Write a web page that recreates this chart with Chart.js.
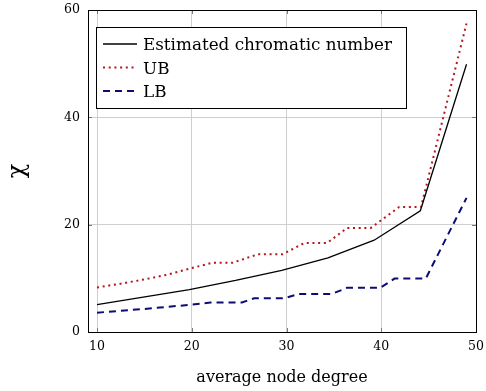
<!DOCTYPE html>
<html>
<head>
<meta charset="utf-8">
<script src="https://cdn.jsdelivr.net/npm/chart.js@4"></script>
<style>
  html, body { margin: 0; padding: 0; background: #fff; }
</style>
</head>
<body>
<canvas id="chromaticChart" width="486" height="391"></canvas>
<script>
// values
const estimatedX = [10, 14.875, 19.75, 24.625, 29.5, 34.375, 39.25, 44.125, 49];
const estimatedY = [5.1, 6.5, 7.9, 9.6, 11.5, 13.8, 17.1, 22.6, 49.9];

const upperX = [10, 12.5, 15, 17.5, 19.75, 22.2, 24.3, 27.0, 29.6, 31.9, 34.3, 36.4, 38.9, 41.9, 44.2, 49];
const upperY = [8.3, 9.0, 9.8, 10.7, 11.8, 12.9, 12.9, 14.5, 14.5, 16.6, 16.6, 19.4, 19.4, 23.3, 23.3, 57.5];

const lowerX = [10, 15, 20, 22.0, 25.3, 26.6, 29.8, 31.3, 34.8, 36.4, 39.9, 41.4, 44.7, 49];
const lowerY = [3.6, 4.3, 5.1, 5.5, 5.5, 6.3, 6.3, 7.1, 7.1, 8.25, 8.25, 9.95, 9.95, 25];

const xTicks = [10, 20, 30, 40, 50];
const yTicks = [0, 20, 40, 60];

const serif = 'DejaVu Serif';

const toPoints = (xs, ys) => xs.map((x, i) => ({ x: x, y: ys[i] }));

// legend inside the plot, like the pgfplots box
const legendBox = {
  id: 'legendBox',
  afterDatasetsDraw(chart) {
    const ctx = chart.ctx;
    const area = chart.chartArea;
    const left = area.left + 8;
    const top = area.top + 17;
    ctx.save();
    ctx.fillStyle = '#fff';
    ctx.fillRect(left, top, 310, 81);
    ctx.strokeStyle = '#000';
    ctx.lineWidth = 1;
    ctx.strokeRect(left + 0.5, top + 0.5, 310, 81);
    ctx.font = '16.8px "' + serif + '"';
    ctx.textBaseline = 'alphabetic';
    chart.data.datasets.forEach((ds, i) => {
      const y = top + 17 + i * 23.5;
      ctx.beginPath();
      ctx.setLineDash(ds.borderDash || []);
      ctx.strokeStyle = ds.borderColor;
      ctx.lineWidth = ds.borderWidth;
      ctx.moveTo(left + 7, y);
      ctx.lineTo(left + 41, y);
      ctx.stroke();
      ctx.setLineDash([]);
      ctx.fillStyle = '#000';
      ctx.fillText(ds.label, left + 47, y + 6);
    });
    ctx.restore();
  }
};

// axis frame and small inner tick marks
const axisFrame = {
  id: 'axisFrame',
  afterDraw(chart) {
    const ctx = chart.ctx;
    const a = chart.chartArea;
    const xs = chart.scales.x;
    const ys = chart.scales.y;
    ctx.save();
    ctx.strokeStyle = '#777';
    ctx.lineWidth = 1;
    ctx.beginPath();
    xTicks.forEach(v => {
      const px = Math.round(xs.getPixelForValue(v)) + 0.5;
      ctx.moveTo(px, a.bottom); ctx.lineTo(px, a.bottom - 4);
      ctx.moveTo(px, a.top); ctx.lineTo(px, a.top + 4);
    });
    yTicks.forEach(v => {
      const py = Math.round(ys.getPixelForValue(v)) + 0.5;
      ctx.moveTo(a.left, py); ctx.lineTo(a.left + 4, py);
      ctx.moveTo(a.right, py); ctx.lineTo(a.right - 4, py);
    });
    ctx.stroke();
    ctx.strokeStyle = '#000';
    ctx.strokeRect(Math.round(a.left) + 0.5, Math.round(a.top) + 0.5,
      Math.round(a.right - a.left), Math.round(a.bottom - a.top));
    ctx.restore();
  }
};

new Chart(document.getElementById('chromaticChart'), {
  type: 'scatter',
  data: {
    datasets: [{
      label: 'Estimated chromatic number',
      data: toPoints(estimatedX, estimatedY),
      showLine: true,
      borderColor: '#000',
      borderWidth: 1.3,
      pointRadius: 0,
      tension: 0
    }, {
      label: 'UB',
      data: toPoints(upperX, upperY),
      showLine: true,
      borderColor: '#b8141a',
      borderWidth: 2,
      borderDash: [2, 3.7],
      pointRadius: 0,
      tension: 0
    }, {
      label: 'LB',
      data: toPoints(lowerX, lowerY),
      showLine: true,
      borderColor: '#0c0c72',
      borderWidth: 2,
      borderDash: [7, 5],
      pointRadius: 0,
      tension: 0
    }]
  },
  options: {
    responsive: false,
    animation: false,
    layout: { padding: { left: 0, right: 10, top: 10, bottom: 0 } },
    plugins: {
      legend: { display: false },
      tooltip: { enabled: false }
    },
    scales: {
      x: {
        type: 'linear',
        min: 9.05,
        max: 50,
        afterBuildTicks: s => { s.ticks = xTicks.map(v => ({ value: v })); },
        afterFit: s => { s.height = 59; s.paddingLeft = 0; s.paddingRight = 0; },
        grid: { color: '#cfcfcf', drawTicks: false },
        border: { display: false },
        ticks: { padding: 7, color: '#000', font: { family: serif, size: 12.5 } },
        title: {
          display: true,
          text: 'average node degree',
          color: '#000',
          font: { family: serif, size: 16 },
          padding: { top: 0, bottom: 4 }
        }
      },
      y: {
        min: 0,
        max: 60,
        afterBuildTicks: s => { s.ticks = yTicks.map(v => ({ value: v })); },
        afterFit: s => { s.width = 88; s.paddingTop = 0; s.paddingBottom = 0; },
        grid: { color: '#cfcfcf', drawTicks: false },
        border: { display: false },
        ticks: { padding: 8, color: '#000', font: { family: serif, size: 12.5 } },
        title: {
          display: true,
          text: 'χ',
          color: '#000',
          font: { family: serif, size: 24 },
          padding: { top: 3, bottom: 0 }
        }
      }
    }
  },
  plugins: [legendBox, axisFrame]
});
</script>
</body>
</html>
